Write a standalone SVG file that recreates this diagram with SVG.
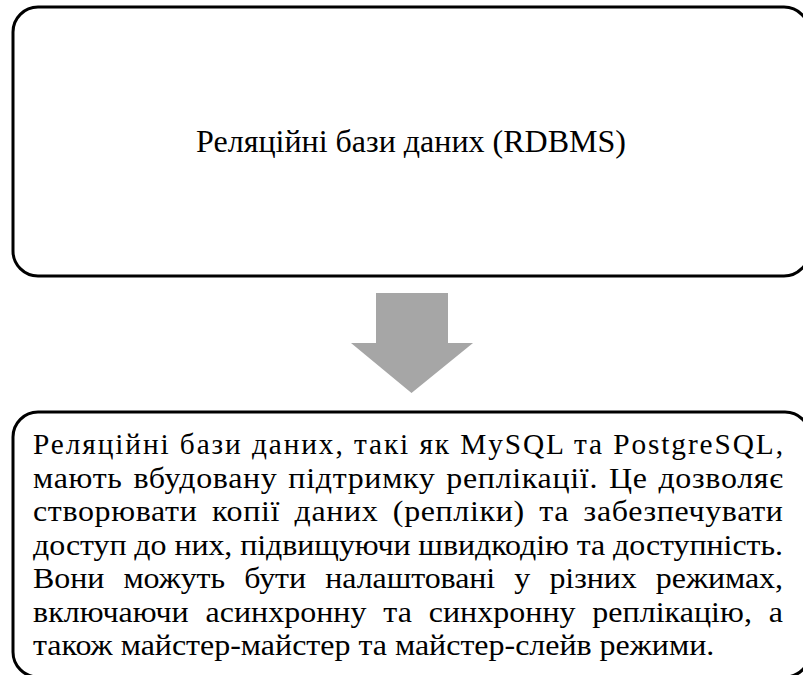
<svg xmlns="http://www.w3.org/2000/svg" width="803" height="675" viewBox="0 0 803 675">
<style>
.box{fill:#fff;stroke:#000;stroke-width:3}
text{font-family:'Liberation Serif','Times New Roman',serif;fill:#000}
.title{font-size:32px}
.body{font-size:29.33px}
</style>
<rect width="803" height="675" fill="#fff"/>
<g id="node-rdbms">
<rect class="box" x="13" y="7" width="796" height="269" rx="25" ry="25"/>
<text class="title" x="411" y="152" text-anchor="middle">Реляційні бази даних (RDBMS)</text>
</g>
<g id="connectors">
<polygon points="376,293 448,293 448,343 473,343 411.5,393 351,343 376,343" fill="#a6a6a6"/>
</g>
<g id="node-description">
<rect class="box" x="13" y="412" width="797" height="265" rx="25" ry="25"/>
<text class="body" x="33" y="454" textLength="750" lengthAdjust="spacing">Реляційні бази даних, такі як MySQL та PostgreSQL,</text>
<text class="body" transform="translate(33,487.5) scale(1.09,1)" x="0" y="0" word-spacing="2" textLength="688" lengthAdjust="spacing">мають вбудовану підтримку реплікації. Це дозволяє</text>
<text class="body" transform="translate(33,521) scale(1.09,1)" x="0" y="0" word-spacing="5.4" textLength="688" lengthAdjust="spacing">створювати копії даних (репліки) та забезпечувати</text>
<text class="body" transform="translate(33,554.5) scale(1.09,1)" x="0" y="0" textLength="688" lengthAdjust="spacing">доступ до них, підвищуючи швидкодію та доступність.</text>
<text class="body" transform="translate(33,588) scale(1.09,1)" x="0" y="0" word-spacing="10.3" textLength="688" lengthAdjust="spacing">Вони можуть бути налаштовані у різних режимах,</text>
<text class="body" transform="translate(33,621.5) scale(1.09,1)" x="0" y="0" word-spacing="8" textLength="688" lengthAdjust="spacing">включаючи асинхронну та синхронну реплікацію, а</text>
<text class="body" transform="translate(33,655) scale(1.09,1)" x="0" y="0">також майстер-майстер та майстер-слейв режими.</text>
</g>
</svg>
